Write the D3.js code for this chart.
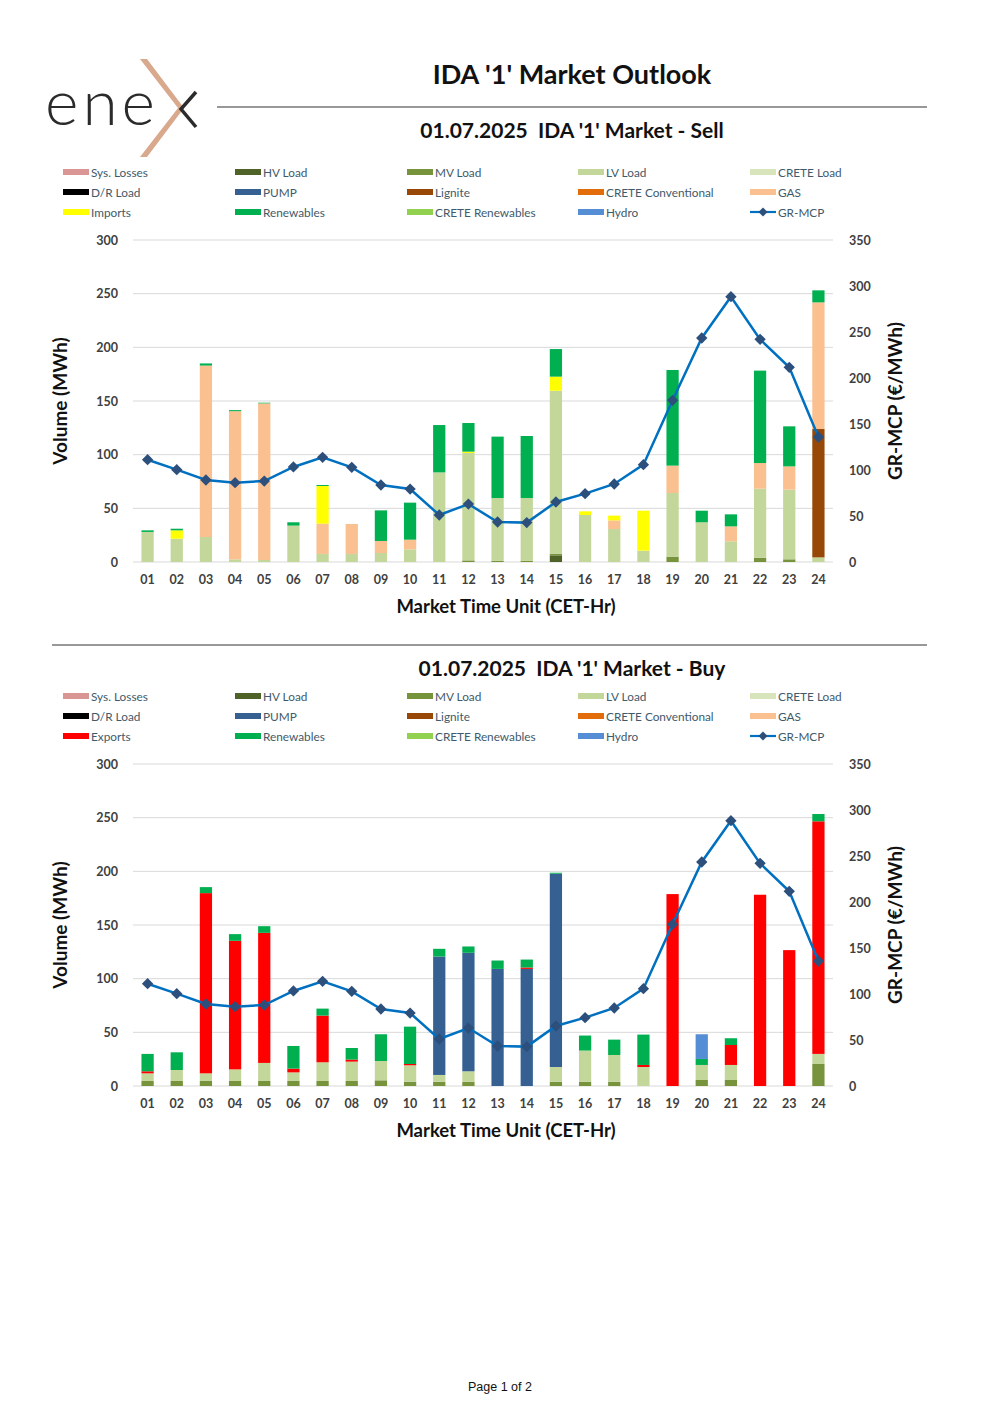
<!DOCTYPE html>
<html>
<head>
<meta charset="utf-8">
<script src="https://cdn.jsdelivr.net/npm/d3@7"></script>
<style>
  body { margin: 0; background: #fff; }
  svg { display: block; }
</style>
</head>
<body>
<script>
// market time units
var hours = ["01","02","03","04","05","06","07","08","09","10","11","12",
             "13","14","15","16","17","18","19","20","21","22","23","24"];

// GR-MCP (€/MWh), same for both panels
var mcp = [111.2,100.4,89.1,86.2,88,103.3,113.8,102.9,83.7,79.3,51.1,63,
           43.5,42.8,65.2,74.3,84.8,105.8,175.7,243.5,288.4,242,211.6,135.9];

// ---- SELL side (MWh) ----
var sellHV    = [0,0,0,0,0,0,0,0,0,0,0,0, 0,0,6.2,0,0,0,0,0,0,0,0,0];
var sellMV    = [0,0,0,0,0,0,0,0,0,0,0,1.5, 1,1,1.6,0,0,0,5,0,0,4,2.5,0];
var sellLV    = [28,21.7,23.3,2.5,1.9,33.9,7.5,7.5,8.4,11.8,83.5,100.1,
                 58.6,58.6,151.8,43.8,30.7,10.6,59.3,37,19.3,64.3,64.9,4.3];
var sellLig   = [0,0,0,0,0,0,0,0,0,0,0,0, 0,0,0,0,0,0,0,0,0,0,0,119.6];
var sellGas   = [0,0,159.7,138,145.9,0,28.2,27.9,11.2,9,0,0,
                 0,0,0,0,8.1,0,25.5,0,13.9,23.9,21.7,118];
var sellImp   = [0,7.8,0,0,0,0,35.1,0,0,0,0,1.2, 0,0,13.1,3.4,4.4,37.2,0,0,0,0,0,0];
var sellRen   = [1.5,1.5,2,1,0.6,3.1,0.9,0,28.5,34.5,44.1,26.7,
                 57.2,57.8,25.7,0,0,0,89.1,10.8,11.2,86.1,37.3,11.2];

// ---- BUY side (MWh) ----
var buyMV     = [4.7,4.7,4.7,4.7,4.7,4.7,4.7,4.7,5.3,4,4,4,
                 0,0,4,4,4,0,0,5.6,5.6,0,0,20.5];
var buyLV     = [7.1,10.2,7.1,10.8,16.8,8,17.4,18,18,15.3,6.3,9.7,
                 0,0,13.7,29,24.9,17.7,0,14,14,0,0,9.4];
var buyPump   = [0,0,0,0,0,0,0,0,0,0,110.3,110.4, 109.1,109.1,180.1,0,0,0,0,0,0,0,0,0];
var buyExp    = [1.9,0,167.9,119.8,121.2,3.5,43.5,1.9,0,1.2,0,0,
                 0,1.3,0,0,0,1.9,178.8,0,18.6,178.2,126.6,216.7];
var buyRen    = [16.2,16.5,5.6,6.2,6.2,21.1,6.5,10.8,24.9,34.8,7.2,5.9,
                 7.8,7.4,0.9,14,14.3,28.3,0,5.6,6.3,0,0,6.8];
var buyHydro  = [0,0,0,0,0,0,0,0,0,0,0,0, 0,0,0,0,0,0,0,23,0,0,0,0];

var legendRows = [
  ["Sys. Losses","HV Load","MV Load","LV Load","CRETE Load"],
  ["D/R Load","PUMP","Lignite","CRETE Conventional","GAS"],
  ["Imports","Renewables","CRETE Renewables","Hydro","GR-MCP"]
];

var colors = {
  "Sys. Losses": "#da9694", "HV Load": "#4f6228", "MV Load": "#77933c",
  "LV Load": "#c4d79b", "CRETE Load": "#d8e4bc", "D/R Load": "#000000",
  "PUMP": "#366092", "Lignite": "#974706", "CRETE Conventional": "#e26b0a",
  "GAS": "#fac090", "Imports": "#ffff00", "Exports": "#ff0000",
  "Renewables": "#00b050", "CRETE Renewables": "#92d050", "Hydro": "#558ed5"
};

var FONT = "Lato, 'DejaVu Sans', sans-serif";
var zeros = hours.map(function() { return 0; });

var svg = d3.select("body").append("svg")
    .attr("width", 1000)
    .attr("height", 1415);

// ---- header / logo ----
var logo = svg.append("g");
logo.append("text")
    .attr("x", 45).attr("y", 125)
    .attr("font-family", FONT)
    .attr("font-weight", 300)
    .attr("font-size", 64)
    .attr("fill", "#2b2b2b")
    .attr("letter-spacing", 4)
    .text("ene");
logo.append("path")
    .attr("d", "M140,59 L178,108 L140,157 L147,157 L184,108 L147,59 Z")
    .attr("fill", "#d9a98d");
logo.append("path")
    .attr("d", "M196,92 L181,109 L196,127")
    .attr("fill", "none").attr("stroke", "#2b2b2b").attr("stroke-width", 3.5);

svg.append("text")
    .attr("x", 572).attr("y", 84)
    .attr("text-anchor", "middle")
    .attr("font-family", FONT).attr("font-weight", "bold")
    .attr("font-size", 27).attr("fill", "#111")
    .text("IDA '1' Market Outlook");

svg.append("line")
    .attr("x1", 217).attr("x2", 927).attr("y1", 107).attr("y2", 107)
    .attr("stroke", "#333").attr("stroke-width", 1.2);

svg.append("line")
    .attr("x1", 52).attr("x2", 927).attr("y1", 645).attr("y2", 645)
    .attr("stroke", "#333").attr("stroke-width", 1.2);

svg.append("text")
    .attr("x", 500).attr("y", 1391)
    .attr("text-anchor", "middle")
    .attr("font-family", "'Liberation Sans', Arial, sans-serif")
    .attr("font-size", 12.5).attr("fill", "#111")
    .text("Page 1 of 2");

// ---- one chart panel ----
function panel(cfg) {
  var left = 133, right = 833, top = cfg.top, bottom = cfg.top + 322;

  svg.append("text")
      .attr("x", 572).attr("y", cfg.titleY)
      .attr("text-anchor", "middle")
      .attr("font-family", FONT).attr("font-weight", "bold")
      .attr("font-size", 21).attr("fill", "#111")
      .style("white-space", "pre")
      .text(cfg.title);

  // legend
  var colX = [63, 235, 407, 578, 750];
  legendRows.forEach(function(row, ri) {
    row.forEach(function(name, ci) {
      var label = (name === "Imports") ? cfg.tradeName : name;
      var y = cfg.legendY + ri * 20;
      var g = svg.append("g").attr("transform", "translate(" + colX[ci] + "," + y + ")");
      if (label === "GR-MCP") {
        g.append("line").attr("x1", 0).attr("x2", 26).attr("y1", 0).attr("y2", 0)
            .attr("stroke", "#0070c0").attr("stroke-width", 2.2);
        g.append("path").attr("d", d3.symbol(d3.symbolSquare, 40)())
            .attr("transform", "translate(13,0) rotate(45)")
            .attr("fill", "#2c4f7c");
      } else {
        g.append("rect").attr("x", 0).attr("y", -3).attr("width", 26).attr("height", 6)
            .attr("fill", colors[label]);
      }
      g.append("text").attr("x", 28).attr("y", 4.5)
          .attr("font-family", FONT).attr("font-size", 11.8)
          .attr("fill", "#3f5a6a")
          .text(label);
    });
  });

  var x = d3.scaleBand().domain(hours).range([left, right]).paddingInner(0.58).paddingOuter(0.29);
  var y = d3.scaleLinear().domain([0, 300]).range([bottom, top]);
  var y2 = d3.scaleLinear().domain([0, 350]).range([bottom, top]);

  // gridlines
  svg.append("g").selectAll("line")
      .data(y.ticks(6))
      .enter().append("line")
      .attr("x1", left).attr("x2", right)
      .attr("y1", function(d) { return y(d); })
      .attr("y2", function(d) { return y(d); })
      .attr("stroke", "#d9d9d9").attr("stroke-width", 1);

  // stacked bars
  var keys = cfg.series.map(function(s) { return s.name; });
  var table = hours.map(function(h, i) {
    var row = { hour: h };
    cfg.series.forEach(function(s) { row[s.name] = s.values[i]; });
    return row;
  });
  var stacked = d3.stack().keys(keys)(table);

  svg.append("g").selectAll("g")
      .data(stacked)
      .enter().append("g")
      .attr("fill", function(d) { return colors[d.key]; })
    .selectAll("rect")
      .data(function(d) { return d; })
      .enter().append("rect")
      .attr("x", function(d) { return x(d.data.hour); })
      .attr("width", x.bandwidth())
      .attr("y", function(d) { return y(d[1]); })
      .attr("height", function(d) { return y(d[0]) - y(d[1]); });

  // axes
  var yAxis = svg.append("g")
      .attr("transform", "translate(" + (left - 12) + ",0)")
      .call(d3.axisLeft(y).ticks(6).tickSize(0));
  var y2Axis = svg.append("g")
      .attr("transform", "translate(" + (right + 13) + ",0)")
      .call(d3.axisRight(y2).ticks(7).tickSize(0));
  var xAxis = svg.append("g")
      .attr("transform", "translate(0," + (bottom + 10) + ")")
      .call(d3.axisBottom(x).tickSize(0));
  [yAxis, y2Axis, xAxis].forEach(function(a) {
    a.select(".domain").remove();
    a.selectAll("text")
        .attr("font-family", FONT).attr("font-weight", "bold")
        .attr("font-size", 12.5).attr("fill", "#404040");
  });

  // MCP line
  var line = d3.line()
      .x(function(d, i) { return x(hours[i]) + x.bandwidth() / 2; })
      .y(function(d) { return y2(d); });
  svg.append("path")
      .datum(mcp)
      .attr("d", line)
      .attr("fill", "none")
      .attr("stroke", "#0070c0")
      .attr("stroke-width", 2.5);
  svg.append("g").selectAll("path")
      .data(mcp)
      .enter().append("path")
      .attr("d", d3.symbol(d3.symbolSquare, 64)())
      .attr("transform", function(d, i) {
        return "translate(" + (x(hours[i]) + x.bandwidth() / 2) + "," + y2(d) + ") rotate(45)";
      })
      .attr("fill", "#2c4f7c");

  // axis titles
  svg.append("text")
      .attr("transform", "translate(67," + ((top + bottom) / 2) + ") rotate(-90)")
      .attr("text-anchor", "middle")
      .attr("font-family", FONT).attr("font-weight", "bold")
      .attr("font-size", 19).attr("fill", "#111")
      .text("Volume (MWh)");
  svg.append("text")
      .attr("transform", "translate(902," + ((top + bottom) / 2) + ") rotate(-90)")
      .attr("text-anchor", "middle")
      .attr("font-family", FONT).attr("font-weight", "bold")
      .attr("font-size", 19).attr("fill", "#111")
      .text("GR-MCP (€/MWh)");
  svg.append("text")
      .attr("x", 506).attr("y", bottom + 51)
      .attr("text-anchor", "middle")
      .attr("font-family", FONT).attr("font-weight", "bold")
      .attr("font-size", 18.5).attr("fill", "#111")
      .text("Market Time Unit (CET-Hr)");
}

panel({
  top: 240, titleY: 138, legendY: 172, tradeName: "Imports",
  title: "01.07.2025  IDA '1' Market - Sell",
  series: [
    { name: "Sys. Losses", values: zeros },
    { name: "HV Load", values: sellHV },
    { name: "MV Load", values: sellMV },
    { name: "LV Load", values: sellLV },
    { name: "Lignite", values: sellLig },
    { name: "GAS", values: sellGas },
    { name: "Imports", values: sellImp },
    { name: "Renewables", values: sellRen }
  ]
});

panel({
  top: 764, titleY: 676, legendY: 696, tradeName: "Exports",
  title: "01.07.2025  IDA '1' Market - Buy",
  series: [
    { name: "MV Load", values: buyMV },
    { name: "LV Load", values: buyLV },
    { name: "PUMP", values: buyPump },
    { name: "Exports", values: buyExp },
    { name: "Renewables", values: buyRen },
    { name: "Hydro", values: buyHydro }
  ]
});
</script>
</body>
</html>
